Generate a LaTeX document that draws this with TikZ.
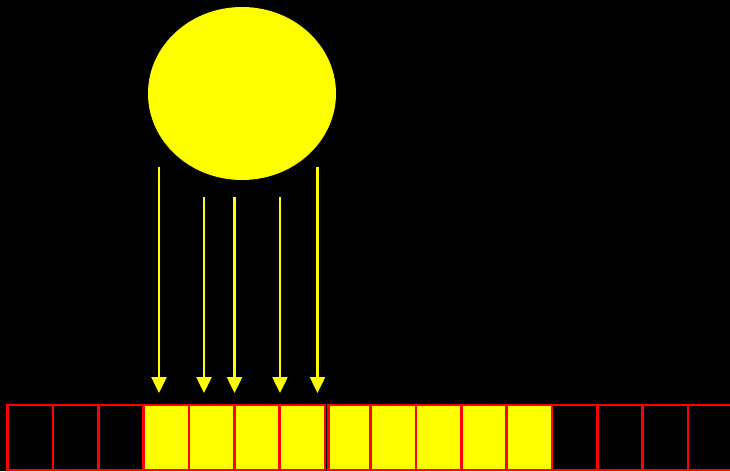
\documentclass[tikz,border=0pt]{standalone}
\usetikzlibrary{arrows.meta,shapes.geometric}
\definecolor{sunyellow}{RGB}{255,255,0}
\definecolor{cellred}{RGB}{255,0,0}
\begin{document}
\begin{tikzpicture}[x=1pt,y=-1pt,
  ray/.style={draw=sunyellow,line width=2.5pt,-{Triangle[width=15pt,length=16pt]}},
  litcell/.style={draw=cellred,fill=sunyellow,line width=2.5pt},
  darkcell/.style={draw=cellred,fill=black,line width=2.5pt}]
\fill[black] (0,0) rectangle (730,471);
\useasboundingbox (0,0) rectangle (730,471);
\begin{scope}
\clip (0,0) rectangle (730,471);
\node[ellipse,fill=sunyellow,minimum width=188pt,minimum height=173pt,inner sep=0pt] (sun) at (242,93.5) {};
% cells
\foreach \i/\a/\b in {1/7.7/53,2/53/98.3,3/98.3/143.6}
  \draw[darkcell] (\a,405) rectangle (\b,470);
\foreach \i/\a/\b in {4/143.6/189,5/189/234.3,6/234.3/279.6,7/279.6/325}
  \draw[litcell] (\a,405) rectangle (\b,470);
\foreach \i/\a/\b in {8/328.3/370.7,9/370.7/416,10/416/461.3,11/461.3/506.7,12/506.7/552}
  \draw[litcell] (\a,405) rectangle (\b,470);
\foreach \i/\a/\b in {13/552/597.3,14/597.3/642.7,15/642.7/688,16/688/733.3}
  \draw[darkcell] (\a,405) rectangle (\b,470);
\end{scope}
% rays
\foreach \n/\x/\y in {a/159/167,b/204/197,c/234.5/197,d/280/197,e/317.5/167}{
  \coordinate (s\n) at (\x,\y);
  \coordinate (t\n) at (\x,393);
  \draw[ray] (s\n) -- (t\n);
}
\end{tikzpicture}
\end{document}
